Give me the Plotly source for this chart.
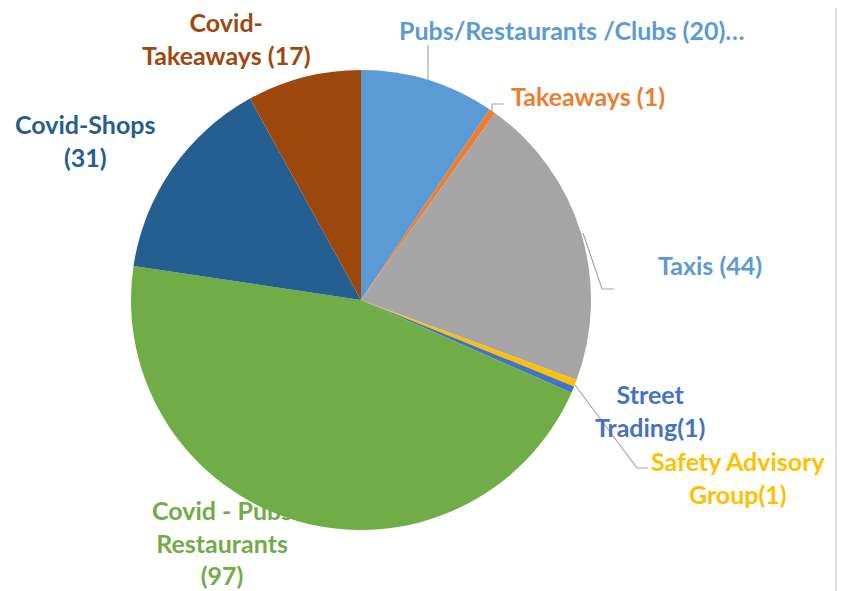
import plotly.graph_objects as go

labels = ["Pubs/Restaurants /Clubs (20)", "Takeaways (1)", "Taxis (44)",
          "Safety Advisory Group(1)", "Street Trading(1)",
          "Covid - Pubs Restaurants (97)", "Covid-Shops (31)", "Covid-Takeaways (17)"]
values = [20, 1, 44, 1, 1, 97, 31, 17]
colors = ["#5B9BD5", "#ED7D31", "#A5A5A5", "#FFC000", "#4472C4",
          "#70AD47", "#255E91", "#9E480E"]

label_texts = ["Pubs/Restaurants /Clubs (20)…", "Takeaways (1)", "Taxis (44)",
               "Safety Advisory<br>Group(1)", "Street<br>Trading(1)",
               "Covid - Pubs<br>Restaurants<br>(97)", "Covid-Shops<br>(31)",
               "Covid-<br>Takeaways (17)"]
label_colors = ["#5B9BD5", "#ED7D31", "#5B9BD5", "#FFC000", "#4472C4",
                "#70AD47", "#255E91", "#9E480E"]
# label centre positions in pixels (x, y from top) of the reference picture
label_pos = [(572, 30), (588, 96), (710, 265), (738, 477), (650, 410),
             (222, 542), (85, 140), (226, 38)]

W, H = 845, 591
OFF = 8  # page body margin
cx, cy, r = 361, 300, 230


def px(x):
    return (x - OFF) / W


def py(y):
    return 1 - (y - OFF) / H


fig = go.Figure(go.Pie(
    labels=labels, values=values, sort=False, direction="clockwise", rotation=0,
    marker=dict(colors=colors, line=dict(width=0)),
    textinfo="none", hoverinfo="label+value", showlegend=False,
    domain=dict(x=[px(cx - r), px(cx + r)], y=[py(cy + r), py(cy - r)]),
))

for t, c, (x, y) in zip(label_texts, label_colors, label_pos):
    fig.add_annotation(x=px(x), y=py(y), xref="paper", yref="paper",
                       text=t, showarrow=False, xanchor="center", yanchor="middle",
                       font=dict(family="Lato", size=25, color=c, weight="bold"))

# leader lines (pixel polylines)
leaders = [
    [(428, 80), (428, 45)],
    [(492, 113), (492, 104), (504, 104)],
    [(583, 233), (602, 289), (614, 289)],
    [(575, 385), (637, 468), (648, 468)],
]
for pts in leaders:
    path = "M " + " L ".join(f"{px(x)},{py(y)}" for x, y in pts)
    fig.add_shape(type="path", path=path, xref="paper", yref="paper",
                  line=dict(color="#A6A6A6", width=1.2))

# right border line
fig.add_shape(type="line", x0=px(836), x1=px(836), y0=0, y1=1.02, xref="paper", yref="paper",
              line=dict(color="#D9D9D9", width=1.5))

fig.update_layout(width=W, height=H, margin=dict(l=0, r=0, t=0, b=0),
                  paper_bgcolor="white", plot_bgcolor="white")
fig.write_html("out.html")
